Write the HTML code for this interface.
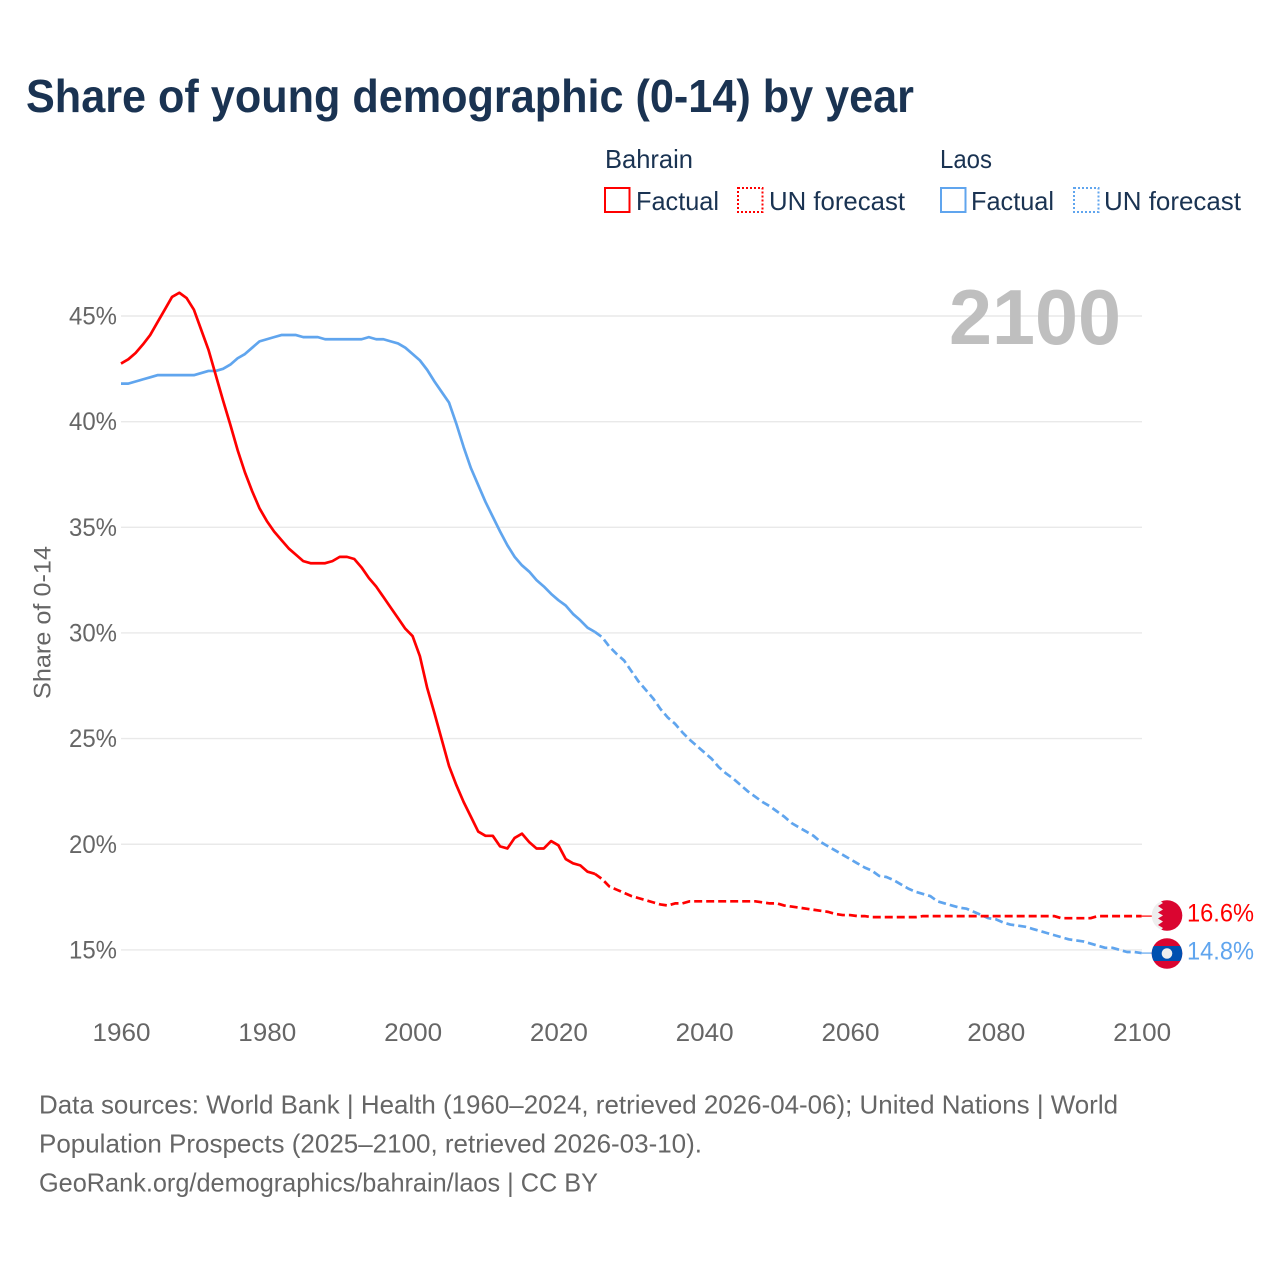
<!DOCTYPE html>
<html lang="en">
<head>
<meta charset="utf-8">
<title>Share of young demographic (0-14) by year</title>
<style>
html,body{margin:0;padding:0;background:#fff;}
svg{display:block;font-family:"Liberation Sans",sans-serif;}
</style>
</head>
<body>
<svg id="chart" xmlns="http://www.w3.org/2000/svg" width="1280" height="1280" viewBox="0 0 1280 1280">
  <defs>
    <clipPath id="clip-bh"><circle cx="1167" cy="915.5" r="15.3"/></clipPath>
    <clipPath id="clip-la"><circle cx="1167" cy="953.5" r="15.3"/></clipPath>
  </defs>
  <rect width="1280" height="1280" fill="#fff"/>
  <text x="26" y="112" font-size="46" font-weight="700" fill="#1a3352" textLength="888" lengthAdjust="spacingAndGlyphs">Share of young demographic (0-14) by year</text>

  <g font-size="26" fill="#1a3352">
    <text x="605" y="168" textLength="88" lengthAdjust="spacingAndGlyphs">Bahrain</text>
    <text x="940" y="168" textLength="52" lengthAdjust="spacingAndGlyphs">Laos</text>
    <rect x="605" y="188" width="24.5" height="24" fill="none" stroke="#ff0000" stroke-width="2"/>
    <text x="636" y="210" textLength="83" lengthAdjust="spacingAndGlyphs">Factual</text>
    <rect x="738" y="188" width="24.5" height="24" fill="none" stroke="#ff0000" stroke-width="2" stroke-dasharray="2 2"/>
    <text x="769" y="210" textLength="136" lengthAdjust="spacingAndGlyphs">UN forecast</text>
    <rect x="941" y="188" width="24.5" height="24" fill="none" stroke="#60a5ee" stroke-width="2"/>
    <text x="971" y="210" textLength="83" lengthAdjust="spacingAndGlyphs">Factual</text>
    <rect x="1074" y="188" width="24.5" height="24" fill="none" stroke="#60a5ee" stroke-width="2" stroke-dasharray="2 2"/>
    <text x="1104" y="210" textLength="137" lengthAdjust="spacingAndGlyphs">UN forecast</text>
  </g>

  <g id="grid"></g>
  <text x="949" y="344" font-size="78" font-weight="700" fill="#bfbfbf" textLength="172" lengthAdjust="spacingAndGlyphs">2100</text>
  <g id="yticks" font-size="25" fill="#666"></g>
  <g id="xticks" font-size="25" fill="#666"></g>
  <text transform="translate(50.5,699) rotate(-90)" font-size="24.5" fill="#666" textLength="153" lengthAdjust="spacingAndGlyphs">Share of 0-14</text>
  <g id="series"></g>

  <g clip-path="url(#clip-bh)">
    <rect x="1150" y="899" width="34" height="34" fill="#eeeeee"/>
    <polygon fill="#da0530" points="1158,899 1163,903 1158,906 1163,909.5 1158,912.5 1163,915.5 1158,918.5 1163,921.5 1158,925 1163,928 1158,933 1184,933 1184,899"/>
  </g>
  <g clip-path="url(#clip-la)">
    <rect x="1150" y="937" width="34" height="34" fill="#da0530"/>
    <rect x="1150" y="946" width="34" height="15" fill="#0050b0"/>
    <circle cx="1167" cy="953.5" r="5.3" fill="#eeeeee"/>
  </g>
  <text x="1187" y="921.5" font-size="25" fill="#ff0000" textLength="67" lengthAdjust="spacingAndGlyphs">16.6%</text>
  <text x="1187" y="959.5" font-size="25" fill="#60a5ee" textLength="67" lengthAdjust="spacingAndGlyphs">14.8%</text>

  <g font-size="26" fill="#666">
    <text x="39" y="1113.5" textLength="1079" lengthAdjust="spacingAndGlyphs">Data sources: World Bank | Health (1960–2024, retrieved 2026-04-06); United Nations | World</text>
    <text x="39" y="1152.5" textLength="663" lengthAdjust="spacingAndGlyphs">Population Prospects (2025–2100, retrieved 2026-03-10).</text>
    <text x="39" y="1191.5" textLength="559" lengthAdjust="spacingAndGlyphs">GeoRank.org/demographics/bahrain/laos | CC BY</text>
  </g>
</svg>
<script>
const yTickValues = [15, 20, 25, 30, 35, 40, 45];
const yTickLabels = ["15%", "20%", "25%", "30%", "35%", "40%", "45%"];
const xTickValues = [1960, 1980, 2000, 2020, 2040, 2060, 2080, 2100];
const xTickLabels = ["1960", "1980", "2000", "2020", "2040", "2060", "2080", "2100"];

const factualStartYear = 1960;
const forecastStartYear = 2025;

// 1960–2025
const bahrainFactual = [
  42.75,42.95,43.25,43.65,44.1,44.7,45.3,45.9,46.1,45.85,
  45.3,44.35,43.4,42.2,41.0,39.85,38.65,37.6,36.7,35.9,
  35.3,34.8,34.4,34.0,33.7,33.4,33.3,33.3,33.3,33.4,
  33.6,33.6,33.5,33.1,32.6,32.2,31.7,31.2,30.7,30.2,
  29.85,28.9,27.4,26.2,24.95,23.7,22.8,22.0,21.3,20.6,
  20.4,20.4,19.9,19.8,20.3,20.5,20.1,19.8,19.8,20.15,
  19.95,19.3,19.1,19.0,18.7,18.6
];
// 2025–2100
const bahrainForecast = [
  18.6,18.35,18.0,17.85,17.7,17.55,17.45,17.35,17.25,17.15,
  17.1,17.2,17.2,17.3,17.3,17.3,17.3,17.3,17.3,17.3,
  17.3,17.3,17.3,17.25,17.2,17.2,17.1,17.05,17.0,16.95,
  16.9,16.85,16.8,16.7,16.65,16.65,16.6,16.6,16.55,16.55,
  16.55,16.55,16.55,16.55,16.55,16.6,16.6,16.6,16.6,16.6,
  16.6,16.6,16.6,16.6,16.6,16.6,16.6,16.6,16.6,16.6,
  16.6,16.6,16.6,16.6,16.5,16.5,16.5,16.5,16.5,16.6,
  16.6,16.6,16.6,16.6,16.6,16.6
];
// 1960–2025
const laosFactual = [
  41.8,41.8,41.9,42.0,42.1,42.2,42.2,42.2,42.2,42.2,
  42.2,42.3,42.4,42.4,42.5,42.7,43.0,43.2,43.5,43.8,
  43.9,44.0,44.1,44.1,44.1,44.0,44.0,44.0,43.9,43.9,
  43.9,43.9,43.9,43.9,44.0,43.9,43.9,43.8,43.7,43.5,
  43.2,42.9,42.45,41.9,41.4,40.9,39.9,38.8,37.8,37.0,
  36.2,35.5,34.8,34.15,33.6,33.2,32.9,32.5,32.2,31.85,
  31.55,31.3,30.9,30.6,30.25,30.05
];
// 2025–2100
const laosForecast = [
  30.05,29.8,29.35,29.0,28.7,28.2,27.7,27.3,26.9,26.4,
  26.0,25.7,25.3,24.95,24.65,24.35,24.05,23.65,23.35,23.1,
  22.8,22.5,22.25,22.0,21.8,21.55,21.3,21.0,20.8,20.6,
  20.4,20.1,19.9,19.7,19.5,19.3,19.1,18.9,18.75,18.5,
  18.45,18.3,18.1,17.9,17.75,17.65,17.55,17.3,17.2,17.1,
  17.0,16.95,16.8,16.65,16.5,16.45,16.3,16.2,16.15,16.1,
  16.0,15.9,15.8,15.7,15.6,15.5,15.45,15.4,15.3,15.2,
  15.1,15.1,15.0,14.9,14.9,14.85
];

const NS = "http://www.w3.org/2000/svg";
function xScale(year) { return 121 + (year - 1960) * 7.29; }
function yScale(v) { return 316 + (45 - v) * 21.13; }
function mk(tag, attrs, parent) {
  const el = document.createElementNS(NS, tag);
  for (const k in attrs) el.setAttribute(k, attrs[k]);
  parent.appendChild(el);
  return el;
}
function pathFrom(values, startYear) {
  return values.map((v, i) => (i ? "L" : "M") + xScale(startYear + i).toFixed(2) + " " + yScale(v).toFixed(2)).join("");
}

const grid = document.getElementById("grid");
const yticks = document.getElementById("yticks");
yTickValues.forEach((v, i) => {
  const line = mk("line", {x1: 121, x2: 1142, y1: yScale(v), y2: yScale(v), stroke: "#e9e9e9", "stroke-width": 1.4}, grid);
  
  
  const t = mk("text", {x: 69, y: yScale(v) + 8.5, textLength: 48, lengthAdjust: "spacingAndGlyphs"}, yticks);
  
  
  t.textContent = yTickLabels[i];
});

const xticks = document.getElementById("xticks");
xTickValues.forEach((v, i) => {
  const t = mk("text", {x: xScale(v) - 28.5, y: 1041, textLength: 58, lengthAdjust: "spacingAndGlyphs"}, xticks);
  
  
  t.textContent = xTickLabels[i];
});

const series = document.getElementById("series");
function drawSeries(factual, forecast, color, key) {
  const dashed = mk("path", {d: pathFrom(forecast, forecastStartYear), fill: "none", stroke: color, "stroke-width": 2.7, "stroke-dasharray": "8 4", "stroke-linejoin": "round"}, series);
  
  
  const solid = mk("path", {d: pathFrom(factual, factualStartYear), fill: "none", stroke: color, "stroke-width": 2.7, "stroke-linejoin": "round"}, series);
  
  
  const lastY = yScale(forecast[forecast.length - 1]);
  const conn = mk("line", {x1: xScale(2100), x2: 1152, y1: lastY, y2: lastY, stroke: color, "stroke-width": 1.2}, series);
  
  
}
drawSeries(laosFactual, laosForecast, "#60a5ee", "laos");
drawSeries(bahrainFactual, bahrainForecast, "#ff0000", "bahrain");
</script>
</body>
</html>
